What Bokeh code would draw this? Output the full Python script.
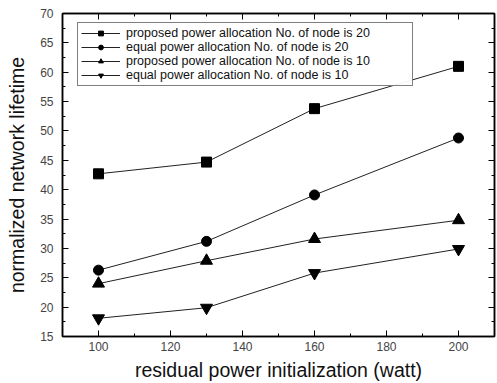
from bokeh.plotting import figure
from bokeh.models import Range1d, LinearAxis, Legend, LegendItem, FixedTicker, ColumnDataSource
from bokeh.embed import file_html
from bokeh.resources import INLINE

power = [100, 130, 160, 200]
proposed_20 = [42.7, 44.7, 53.8, 61.0]
equal_20 = [26.3, 31.2, 39.1, 48.8]
proposed_10 = [24.0, 27.9, 31.6, 34.8]
equal_10 = [18.1, 19.9, 25.8, 29.9]
labels = [
    "proposed power allocation No. of node is 20",
    "equal power allocation No. of node is 20",
    "proposed power allocation No. of node is 10",
    "equal power allocation No. of node is 10",
]
x_ticks = [100, 120, 140, 160, 180, 200]
y_ticks = [15, 20, 25, 30, 35, 40, 45, 50, 55, 60, 65, 70]
x_minor = [90, 110, 130, 150, 170, 190, 210]
y_minor = [17.5, 22.5, 27.5, 32.5, 37.5, 42.5, 47.5, 52.5, 57.5, 62.5, 67.5]

FONT = "Liberation Sans"

p = figure(width=497, height=383, output_backend="svg", toolbar_location=None,
           x_range=Range1d(90, 210), y_range=Range1d(15, 70),
           min_border_left=62, min_border_right=3, min_border_top=13, min_border_bottom=47)
p.outline_line_color = "black"
p.outline_line_width = 1.5
p.xgrid.visible = False
p.ygrid.visible = False

def base_axis(ax):
    ax.major_tick_in = 6
    ax.major_tick_out = 0
    ax.minor_tick_in = 3
    ax.minor_tick_out = 0
    ax.axis_line_color = "black"
    ax.axis_line_width = 1.5
    ax.major_tick_line_color = "black"
    ax.minor_tick_line_color = "black"
    ax.major_label_text_font = FONT
    ax.major_label_text_font_size = "12px"
    ax.major_label_text_color = "#444444"
    ax.axis_label_text_font = FONT
    ax.axis_label_text_font_size = "19.5px"
    ax.axis_label_text_font_style = "normal"
    ax.axis_label_text_color = "#111111"

xa = p.xaxis[0]
ya = p.yaxis[0]
for ax, t, m in ((xa, x_ticks, x_minor + x_ticks), (ya, y_ticks, y_minor + y_ticks)):
    base_axis(ax)
    ax.ticker = FixedTicker(ticks=t, minor_ticks=sorted(m))
xa.axis_label = "residual power initialization (watt)"
ya.axis_label = "normalized network lifetime"
xa.major_label_standoff = 5
xa.axis_label_standoff = 5
ya.major_label_standoff = 9
ya.axis_label_standoff = 9

# unlabeled mirror ticks on top and right (ticks only, no labels)
for side, majors, minors in (("above", x_ticks, x_minor), ("right", y_ticks, y_minor)):
    a1 = LinearAxis(ticker=FixedTicker(ticks=[], minor_ticks=majors))
    base_axis(a1)
    a1.minor_tick_in = 6
    a1.major_label_standoff = 0
    a1.axis_label_standoff = 0
    p.add_layout(a1, side)
    a2 = LinearAxis(ticker=FixedTicker(ticks=[], minor_ticks=minors))
    base_axis(a2)
    a2.axis_line_alpha = 0
    a2.major_label_standoff = 0
    a2.axis_label_standoff = 0
    p.add_layout(a2, side)

series = [proposed_20, equal_20, proposed_10, equal_10]
markers = ["square", "circle", "triangle", "inverted_triangle"]
sizes = [10, 10, 12, 12]
lsizes = [5, 6, 8, 8]

items = []
for ys, m, s, ls, lab in zip(series, markers, sizes, lsizes, labels):
    src = ColumnDataSource(dict(x=power, y=ys))
    p.line("x", "y", source=src, line_color="#222222", line_width=1)
    p.scatter("x", "y", source=src, marker=m, size=s, fill_color="black", line_color="black")
    dsrc = ColumnDataSource(dict(x=[float("nan")], y=[float("nan")]))
    lr = p.line("x", "y", source=dsrc, line_color="#222222", line_width=1)
    sr = p.scatter("x", "y", source=dsrc, marker=m, size=ls, fill_color="black", line_color="black")
    items.append(LegendItem(label=lab, renderers=[lr, sr]))

legend = Legend(items=items, location=(15, 250))
legend.margin = 0
legend.border_line_color = "black"
legend.border_line_width = 1
legend.label_text_font = FONT
legend.label_text_font_size = "12.5px"
legend.label_text_color = "#111111"
legend.glyph_width = 39
legend.glyph_height = 12
legend.label_height = 12
legend.label_width = 283
legend.spacing = 0
legend.padding = 3
legend.label_standoff = 6
p.add_layout(legend)

open("out.html", "w").write(file_html(p, INLINE))
